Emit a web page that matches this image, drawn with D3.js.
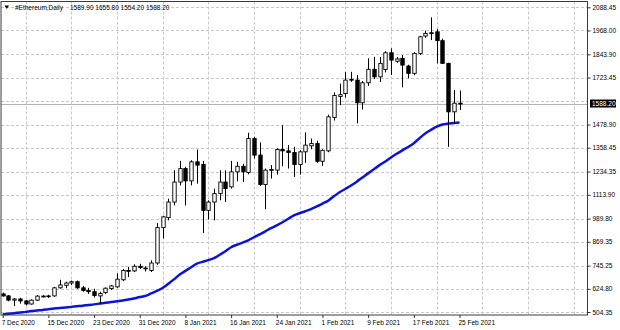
<!DOCTYPE html>
<html>
<head>
<meta charset="utf-8">
<script src="https://cdn.jsdelivr.net/npm/d3@7"></script>
<style>
  body { margin: 0; background: #fff; }
  svg { display: block; font-family: "Liberation Sans", Arial, sans-serif; }
  .tick text { font-size: 6.5px; fill: #000; }
</style>
</head>
<body>
<svg id="chart" width="620" height="330"></svg>
<script>
// ETH daily candles, 7 Dec 2020 .. 25 Feb 2021
const startDay = Date.UTC(2020, 11, 7);
const open  = [598,588,566,572,562,546,566,587,585,588,630,643,655,662,630,616,610,588,605,626,
               635,672,720,718,742,733,720,759,943,995,1076,1180,1250,1186,1285,1271,1033,1076,1120,1180,
               1155,1233,1262,1230,1406,1320,1167,1242,1242,1349,1342,1334,1271,1337,1368,1380,1288,1342,1516,1625,
               1640,1714,1710,1592,1696,1766,1727,1765,1852,1808,1823,1783,1745,1849,1939,1956,1961,1915,1797,1545,1589.9];
const high  = [605,593,576,578,566,570,592,593,594,635,672,662,668,668,640,630,625,610,632,645,
               705,728,738,752,755,742,773,967,1005,1094,1241,1290,1259,1293,1349,1290,1085,1146,1241,1241,
               1290,1285,1275,1436,1415,1386,1250,1268,1355,1476,1372,1363,1345,1438,1406,1395,1350,1530,1646,1692,
               1753,1753,1736,1705,1823,1831,1830,1860,1875,1830,1840,1790,1855,1940,1967,2036,1975,1925,1800,1658,1655.8];
const low   = [584,560,535,548,538,543,562,580,578,584,626,628,644,625,610,598,580,545,598,620,
               630,665,686,712,728,715,712,750,886,981,1059,1163,1059,1163,1172,915,985,981,1085,1076,
               1146,1184,1180,1220,1302,1160,1039,1198,1219,1262,1250,1207,1219,1280,1350,1280,1264,1335,1500,1580,
               1620,1701,1485,1557,1680,1715,1700,1750,1736,1800,1672,1719,1735,1840,1930,1918,1797,1795,1363,1485,1554.2];
const close = [588,566,572,562,546,566,587,585,588,630,645,655,662,630,616,610,590,600,628,640,
               675,720,716,742,736,729,759,943,999,1076,1180,1250,1186,1285,1268,1033,1076,1120,1180,1146,
               1233,1262,1233,1406,1320,1167,1242,1245,1349,1342,1334,1271,1337,1372,1380,1288,1345,1519,1630,1634,
               1710,1712,1592,1696,1766,1727,1797,1852,1814,1820,1788,1745,1849,1935,1953,1953,1915,1797,1545,1589.9,1588.2];
// moving average (blue line)
const ma    = [492,495,498,502,505,509,512,515,519,522,525,528,531,534,537,541,544,548,552,556,
               560,564,569,575,582,588,601,614,629,651,674,699,718,737,756,765,774,784,802,820,
               841,854,865,877,893,908,924,940,955,971,989,1007,1018,1028,1039,1053,1068,1083,1106,1127,
               1144,1162,1182,1204,1225,1247,1268,1287,1308,1327,1345,1362,1382,1408,1432,1451,1468,1479,1484,1487,1490];

const priceTicks = [2088.45, 1968.00, 1843.90, 1723.45, 1478.90, 1358.45, 1234.35, 1113.90, 989.80, 869.35, 745.25, 624.80, 504.35];
const gridPrices = [2088.45, 1968.00, 1843.90, 1723.45, 1603.00, 1478.90, 1358.45, 1234.35, 1113.90, 989.80, 869.35, 745.25, 624.80, 504.35];
const dateTicks  = ["2020-12-07","2020-12-15","2020-12-23","2020-12-31","2021-01-08","2021-01-16","2021-01-24","2021-02-01","2021-02-09","2021-02-17","2021-02-25"];
const dateLabels = ["7 Dec 2020","15 Dec 2020","23 Dec 2020","31 Dec 2020","8 Jan 2021","16 Jan 2021","24 Jan 2021","1 Feb 2021","9 Feb 2021","17 Feb 2021","25 Feb 2021"];
const gridDates  = ["2020-12-11","2020-12-19","2020-12-27","2021-01-04","2021-01-12","2021-01-20","2021-01-28","2021-02-05","2021-02-13","2021-02-21","2021-03-01","2021-03-09","2021-03-17"];
const header = { symbol: "#Ethereum,Daily", ohlc: "1589.90 1655.80 1554.20 1588.20" };
const lastPrice = 1588.20;

const days = open.map((_, i) => new Date(startDay + i * 864e5));
const bars = days.map((d, i) => ({ d, o: open[i], h: high[i], l: low[i], c: close[i], m: ma[i] }));

const svg = d3.select("#chart");
const plot = { left: 1, top: 1.5, right: 587.5, bottom: 315 };

const x = d3.scaleUtc().domain([days[0], days[days.length - 1]]).range([2.7, 459.5]);
const y = d3.scaleLinear().domain([504.35, 2088.45]).range([312, 7.3]);

// grid
const grid = svg.append("g").attr("stroke", "#c8c8c8").attr("stroke-dasharray", "3,2").attr("stroke-width", 1);
grid.selectAll(".hg").data(gridPrices).enter().append("line")
  .attr("x1", plot.left).attr("x2", plot.right)
  .attr("y1", d => Math.round(y(d)) + 0.5).attr("y2", d => Math.round(y(d)) + 0.5);
grid.selectAll(".vg").data(gridDates).enter().append("line")
  .attr("x1", d => Math.round(x(new Date(d + "T00:00:00Z"))) + 0.5)
  .attr("x2", d => Math.round(x(new Date(d + "T00:00:00Z"))) + 0.5)
  .attr("y1", plot.top).attr("y2", plot.bottom);

// bid line
svg.append("line")
  .attr("x1", plot.left).attr("x2", plot.right)
  .attr("y1", Math.round(y(lastPrice)) + 0.5).attr("y2", Math.round(y(lastPrice)) + 0.5)
  .attr("stroke", "#b4b4b4").attr("stroke-width", 1);

// moving average
svg.append("path")
  .datum(bars)
  .attr("fill", "none")
  .attr("stroke", "#0b13d6")
  .attr("stroke-width", 2.5)
  .attr("stroke-linejoin", "round")
  .attr("d", d3.line().x(b => x(b.d)).y(b => y(b.m)).curve(d3.curveMonotoneX));

// candles
const bw = 3.4;
const candle = svg.append("g").selectAll("g").data(bars).enter().append("g");
candle.append("line")
  .attr("x1", b => Math.round(x(b.d)) + 0.5).attr("x2", b => Math.round(x(b.d)) + 0.5)
  .attr("y1", b => y(b.h)).attr("y2", b => y(b.l))
  .attr("stroke", "#000").attr("stroke-width", 1);
candle.append("rect")
  .attr("x", b => Math.round(x(b.d)) + 0.5 - bw / 2)
  .attr("width", bw)
  .attr("y", b => y(Math.max(b.o, b.c)))
  .attr("height", b => Math.max(0.8, Math.abs(y(b.o) - y(b.c))))
  .attr("fill", b => b.c >= b.o ? "#fff" : "#000")
  .attr("stroke", "#000").attr("stroke-width", 0.9);

// frame
svg.append("rect")
  .attr("x", plot.left).attr("y", plot.top)
  .attr("width", plot.right - plot.left).attr("height", plot.bottom - plot.top)
  .attr("fill", "none").attr("stroke", "#3c3c3c").attr("stroke-width", 1);

// price axis
const yAxis = svg.append("g")
  .attr("transform", `translate(${plot.right},0)`)
  .call(d3.axisRight(y).tickValues(priceTicks).tickFormat(d3.format(".2f")).tickSize(3).tickPadding(2));
yAxis.select(".domain").remove();
yAxis.selectAll(".tick line").attr("stroke", "#333");

// date axis
const xAxis = svg.append("g")
  .attr("transform", `translate(0,${plot.bottom})`)
  .call(d3.axisBottom(x)
    .tickValues(dateTicks.map(d => new Date(d + "T00:00:00Z")))
    .tickFormat((d, i) => dateLabels[i])
    .tickSize(3).tickPadding(2));
xAxis.select(".domain").remove();
xAxis.selectAll(".tick line").attr("stroke", "#333");
xAxis.selectAll(".tick text").attr("text-anchor", "start").attr("x", -1.5);

// current price box
const py = y(lastPrice);
svg.append("rect").attr("x", 590).attr("y", py - 4).attr("width", 26).attr("height", 8).attr("fill", "#000");
svg.append("text").attr("x", 592).attr("y", py).attr("dy", "0.33em")
  .attr("font-size", 6.5).attr("fill", "#fff").text(d3.format(".2f")(lastPrice));

// header
svg.append("path").attr("d", "M4.5,5.5 L9,5.5 L6.75,9 Z").attr("fill", "#000");
svg.append("text").attr("x", 15).attr("y", 7.5).attr("dy", "0.33em").attr("font-size", 6.5).text(header.symbol);
svg.append("text").attr("x", 70).attr("y", 7.5).attr("dy", "0.33em").attr("font-size", 6.5).text(header.ohlc);
</script>
</body>
</html>
